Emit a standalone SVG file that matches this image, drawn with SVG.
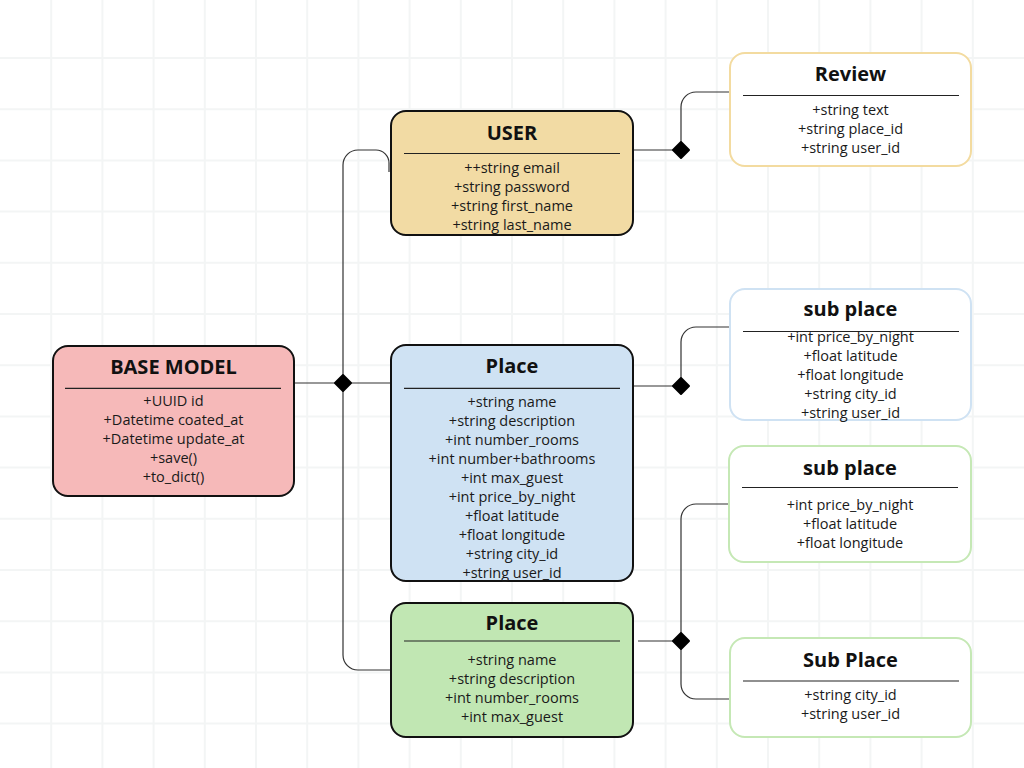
<svg xmlns="http://www.w3.org/2000/svg" width="1024" height="768" viewBox="0 0 1024 768">
<style>
.grid{stroke:#f3f5f5;stroke-width:2;fill:none}
.box{stroke:#111;stroke-width:2}
.sub{fill:#fff;stroke-width:2}
.div{stroke:#222;stroke-width:1.2}
.title{font-family:"Open Sans","Liberation Sans",sans-serif;font-weight:700;font-size:20px;fill:#111;text-anchor:middle}
.attr{font-family:"Open Sans","Liberation Sans",sans-serif;font-size:14.5px;fill:#1a1a1a;text-anchor:middle}
.conn{fill:none;stroke:#333;stroke-width:1.2}
.dia{fill:#000;stroke:#000;stroke-width:2;stroke-linejoin:round}
</style>
<rect width="1024" height="768" fill="#fff"/>
<path class="grid" d="M51.2,0V768M102.4,0V768M153.6,0V768M204.8,0V768M256,0V768M307.2,0V768M358.4,0V768M409.6,0V768M460.8,0V768M512,0V768M563.2,0V768M614.4,0V768M665.6,0V768M716.8,0V768M768,0V768M819.2,0V768M870.4,0V768M921.6,0V768M972.8,0V768M0,58H1024M0,109.2H1024M0,160.4H1024M0,211.6H1024M0,262.8H1024M0,314H1024M0,365.2H1024M0,416.4H1024M0,467.6H1024M0,518.8H1024M0,570H1024M0,621.2H1024M0,672.4H1024M0,723.6H1024"/>

<g id="connectors">
<path class="conn" d="M294,383H391"/>
<path class="conn" d="M343,383V165A15,15 0 0 1 358,150H376A13,13 0 0 1 389,163V172"/>
<path class="conn" d="M343,383V655A15,15 0 0 0 358,670H391"/>
<path class="dia" d="M343,375L351,383L343,391L335,383Z"/>
<path class="conn" d="M633,150H681V107A15,15 0 0 1 696,92H730"/>
<path class="dia" d="M681,142L689,150L681,158L673,150Z"/>
<path class="conn" d="M633,386H681V342A15,15 0 0 1 696,327H730"/>
<path class="dia" d="M681,378L689,386L681,394L673,386Z"/>
<path class="conn" d="M638,641H681V519A15,15 0 0 1 696,504H730"/>
<path class="conn" d="M681,641V684A15,15 0 0 0 696,699H730"/>
<path class="dia" d="M681,633L689,641L681,649L673,641Z"/>
</g>

<g id="base-model">
<rect class="box" x="53" y="346" width="241" height="150" rx="15" fill="#f6b9b9"/>
<text class="title" x="173.5" y="374">BASE MODEL</text>
<line class="div" x1="65" y1="388.3" x2="281" y2="388.3"/>
<text class="attr" x="173.5" y="406">+UUID id</text>
<text class="attr" x="173.5" y="425">+Datetime coated_at</text>
<text class="attr" x="173.5" y="444">+Datetime update_at</text>
<text class="attr" x="173.5" y="463">+save()</text>
<text class="attr" x="173.5" y="482">+to_dict()</text>
</g>

<g id="user">
<rect class="box" x="391" y="111" width="242" height="124" rx="15" fill="#f2dba4"/>
<text class="title" x="512" y="140">USER</text>
<line class="div" x1="404" y1="153.5" x2="620" y2="153.5"/>
<text class="attr" x="512" y="173">++string email</text>
<text class="attr" x="512" y="192">+string password</text>
<text class="attr" x="512" y="211">+string first_name</text>
<text class="attr" x="512" y="230">+string last_name</text>
</g>

<g id="place">
<rect class="box" x="391" y="345" width="242" height="236" rx="15" fill="#cfe2f3"/>
<text class="title" x="512" y="373">Place</text>
<line class="div" x1="404" y1="388.3" x2="620" y2="388.3"/>
<text class="attr" x="512" y="407">+string name</text>
<text class="attr" x="512" y="426">+string description</text>
<text class="attr" x="512" y="445">+int number_rooms</text>
<text class="attr" x="512" y="464">+int number+bathrooms</text>
<text class="attr" x="512" y="483">+int max_guest</text>
<text class="attr" x="512" y="502">+int price_by_night</text>
<text class="attr" x="512" y="521">+float latitude</text>
<text class="attr" x="512" y="540">+float longitude</text>
<text class="attr" x="512" y="559">+string city_id</text>
<text class="attr" x="512" y="578">+string user_id</text>
</g>

<g id="place-green">
<rect class="box" x="391" y="603" width="242" height="134" rx="15" fill="#c1e7b3"/>
<text class="title" x="512" y="630">Place</text>
<line class="div" x1="404" y1="641" x2="620" y2="641"/>
<text class="attr" x="512" y="665">+string name</text>
<text class="attr" x="512" y="684">+string description</text>
<text class="attr" x="512" y="703">+int number_rooms</text>
<text class="attr" x="512" y="722">+int max_guest</text>
</g>

<g id="review">
<rect class="sub" x="730" y="53" width="241" height="113" rx="15" stroke="#f3dba0"/>
<text class="title" x="850.5" y="81">Review</text>
<line class="div" x1="743" y1="95.5" x2="959" y2="95.5"/>
<text class="attr" x="850.5" y="115">+string text</text>
<text class="attr" x="850.5" y="134">+string place_id</text>
<text class="attr" x="850.5" y="153">+string user_id</text>
</g>

<g id="sub-place-blue">
<rect class="sub" x="730" y="289" width="241" height="131" rx="15" stroke="#cfe2f3"/>
<text class="title" x="850.5" y="316">sub place</text>
<line class="div" x1="743" y1="331.5" x2="959" y2="331.5"/>
<text class="attr" x="850.5" y="342">+int price_by_night</text>
<text class="attr" x="850.5" y="361">+float latitude</text>
<text class="attr" x="850.5" y="380">+float longitude</text>
<text class="attr" x="850.5" y="399">+string city_id</text>
<text class="attr" x="850.5" y="418">+string user_id</text>
</g>

<g id="sub-place-green">
<rect class="sub" x="729" y="446" width="242" height="116" rx="15" stroke="#c5e8b5"/>
<text class="title" x="850" y="475">sub place</text>
<line class="div" x1="742" y1="487.5" x2="958" y2="487.5"/>
<text class="attr" x="850" y="510">+int price_by_night</text>
<text class="attr" x="850" y="529">+float latitude</text>
<text class="attr" x="850" y="548">+float longitude</text>
</g>

<g id="sub-place-2">
<rect class="sub" x="730" y="638" width="241" height="99" rx="15" stroke="#c5e8b5"/>
<text class="title" x="850.5" y="667">Sub Place</text>
<line class="div" x1="743" y1="681" x2="959" y2="681"/>
<text class="attr" x="850.5" y="700">+string city_id</text>
<text class="attr" x="850.5" y="719">+string user_id</text>
</g>
</svg>
